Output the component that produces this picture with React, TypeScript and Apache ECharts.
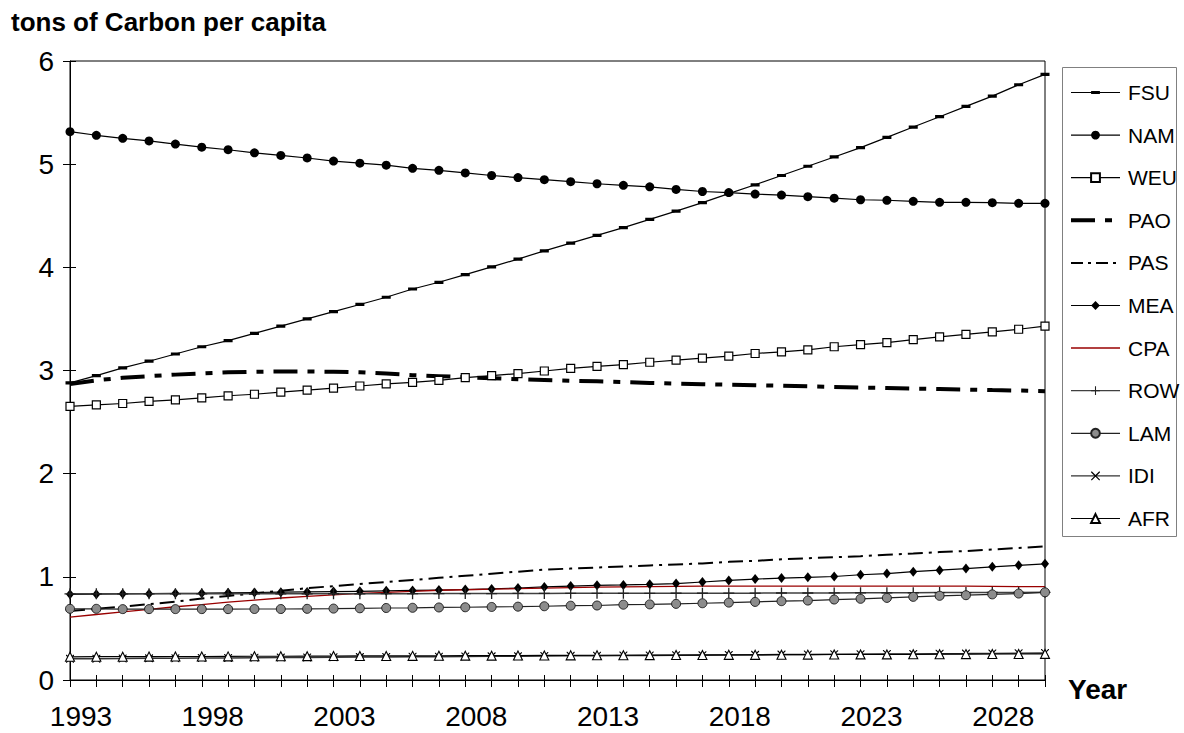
import React, { useEffect, useRef } from "react";
import * as echarts from "echarts";

const years = [
  "1993", "1994", "1995", "1996", "1997", "1998", "1999", "2000", "2001", "2002",
  "2003", "2004", "2005", "2006", "2007", "2008", "2009", "2010", "2011", "2012",
  "2013", "2014", "2015", "2016", "2017", "2018", "2019", "2020", "2021", "2022",
  "2023", "2024", "2025", "2026", "2027", "2028", "2029", "2030",
];

const FSU = [2.88, 2.95, 3.025, 3.09, 3.16, 3.23, 3.29, 3.36, 3.43, 3.5, 3.57, 3.64, 3.71, 3.79, 3.855, 3.93, 4.005, 4.08, 4.16, 4.235, 4.31, 4.385, 4.465, 4.545, 4.627, 4.715, 4.8, 4.89, 4.98, 5.07, 5.16, 5.26, 5.36, 5.46, 5.56, 5.66, 5.77, 5.87];
const NAM = [5.315, 5.28, 5.25, 5.225, 5.195, 5.165, 5.14, 5.11, 5.085, 5.06, 5.03, 5.01, 4.99, 4.96, 4.94, 4.915, 4.89, 4.87, 4.85, 4.83, 4.81, 4.795, 4.78, 4.755, 4.735, 4.725, 4.71, 4.7, 4.685, 4.67, 4.655, 4.65, 4.64, 4.63, 4.63, 4.627, 4.62, 4.62];
const WEU = [2.653, 2.667, 2.68, 2.7, 2.715, 2.735, 2.755, 2.77, 2.79, 2.81, 2.83, 2.85, 2.87, 2.885, 2.905, 2.93, 2.95, 2.97, 2.995, 3.02, 3.04, 3.057, 3.08, 3.1, 3.12, 3.14, 3.165, 3.18, 3.2, 3.23, 3.25, 3.27, 3.3, 3.325, 3.35, 3.375, 3.4, 3.43];
const PAO = [2.87, 2.905, 2.93, 2.945, 2.96, 2.972, 2.982, 2.988, 2.99, 2.99, 2.988, 2.982, 2.97, 2.955, 2.945, 2.935, 2.925, 2.915, 2.908, 2.9, 2.895, 2.888, 2.88, 2.873, 2.867, 2.862, 2.857, 2.852, 2.846, 2.84, 2.835, 2.83, 2.825, 2.82, 2.815, 2.81, 2.806, 2.8];
const PAS = [0.67, 0.69, 0.71, 0.735, 0.76, 0.79, 0.815, 0.84, 0.865, 0.89, 0.91, 0.93, 0.95, 0.97, 0.99, 1.01, 1.03, 1.05, 1.07, 1.08, 1.09, 1.1, 1.11, 1.12, 1.13, 1.145, 1.155, 1.17, 1.18, 1.19, 1.2, 1.215, 1.225, 1.24, 1.25, 1.265, 1.28, 1.295];
const MEA = [0.83, 0.832, 0.835, 0.837, 0.84, 0.842, 0.845, 0.848, 0.851, 0.854, 0.857, 0.86, 0.864, 0.868, 0.872, 0.877, 0.883, 0.892, 0.902, 0.91, 0.918, 0.922, 0.927, 0.935, 0.95, 0.965, 0.978, 0.988, 0.995, 1.003, 1.02, 1.032, 1.05, 1.065, 1.08, 1.097, 1.112, 1.126];
const CPA = [0.61, 0.635, 0.66, 0.685, 0.71, 0.73, 0.755, 0.775, 0.795, 0.81, 0.825, 0.84, 0.85, 0.86, 0.87, 0.875, 0.88, 0.885, 0.89, 0.895, 0.9, 0.903, 0.905, 0.907, 0.909, 0.91, 0.91, 0.91, 0.91, 0.91, 0.91, 0.91, 0.91, 0.91, 0.91, 0.908, 0.906, 0.905];
const ROW = [0.835, 0.835, 0.835, 0.835, 0.835, 0.835, 0.835, 0.835, 0.835, 0.835, 0.836, 0.836, 0.837, 0.837, 0.838, 0.838, 0.838, 0.839, 0.839, 0.84, 0.84, 0.84, 0.84, 0.841, 0.841, 0.842, 0.842, 0.843, 0.843, 0.844, 0.845, 0.845, 0.846, 0.847, 0.847, 0.848, 0.849, 0.85];
const LAM = [0.69, 0.69, 0.687, 0.687, 0.687, 0.687, 0.687, 0.688, 0.688, 0.69, 0.692, 0.695, 0.698, 0.7, 0.703, 0.705, 0.708, 0.711, 0.715, 0.72, 0.722, 0.73, 0.733, 0.738, 0.744, 0.75, 0.757, 0.764, 0.77, 0.78, 0.787, 0.796, 0.806, 0.816, 0.822, 0.83, 0.838, 0.85];
const IDI = [0.205, 0.207, 0.208, 0.21, 0.211, 0.213, 0.214, 0.216, 0.217, 0.219, 0.22, 0.222, 0.223, 0.225, 0.226, 0.228, 0.229, 0.231, 0.232, 0.234, 0.235, 0.237, 0.238, 0.24, 0.241, 0.243, 0.244, 0.246, 0.247, 0.249, 0.25, 0.252, 0.253, 0.255, 0.256, 0.258, 0.259, 0.261];
const AFR = [0.225, 0.226, 0.226, 0.227, 0.228, 0.228, 0.229, 0.23, 0.23, 0.231, 0.232, 0.233, 0.233, 0.234, 0.235, 0.236, 0.236, 0.237, 0.238, 0.239, 0.24, 0.24, 0.241, 0.242, 0.243, 0.244, 0.244, 0.245, 0.246, 0.247, 0.248, 0.248, 0.249, 0.25, 0.251, 0.252, 0.252, 0.253];

const yTicks = [0, 6, 1];
const FONT = '"Liberation Sans", Arial, Helvetica, sans-serif';

// short horizontal dash inside a square bounding box (degenerate sub-paths keep the box square)
const DASH = "path://M0,0 L0.01,0 Z M0,2.9 H9 V6.1 H0 Z M0,9 L0.01,9 Z";
const PLUS = "path://M4.4,0 H5.6 V4.4 H10 V5.6 H5.6 V10 H4.4 V5.6 H0 V4.4 H4.4 Z";
const CROSS = "path://M0,0 L1,0 L5,4 L9,0 L10,0 L10,1 L6,5 L10,9 L10,10 L9,10 L5,6 L1,10 L0,10 L0,9 L4,5 L0,1 Z";
const CLEAR = "rgba(0,0,0,0)";

function line(name: string, data: number[], opts: any) {
  const hasSymbol = !!opts.symbol;
  return {
    name,
    type: "line",
    data,
    xAxisIndex: 0,
    yAxisIndex: 0,
    showSymbol: hasSymbol,
    symbol: opts.symbol || "circle",
    symbolSize: opts.symbolSize || 8,
    itemStyle: opts.itemStyle || { color: hasSymbol ? "#000" : CLEAR },
    lineStyle: Object.assign({ color: "#000", width: 1.2 }, opts.lineStyle || {}),
    emphasis: { disabled: true },
  };
}

export default function App() {
  const ref = useRef<HTMLDivElement>(null);
  useEffect(() => {
    if (!ref.current) return;
    const chart = echarts.init(ref.current, null, { renderer: "svg" });
    const series = [
      line("FSU", FSU, { symbol: DASH, symbolSize: 9 }),
      line("NAM", NAM, { symbol: "circle", symbolSize: 9 }),
      line("WEU", WEU, {
        symbol: "rect",
        symbolSize: 8,
        itemStyle: { color: "#fff", borderColor: "#000", borderWidth: 1.2 },
      }),
      line("PAO", PAO, { lineStyle: { width: 4, type: [24, 10, 7, 10] } }),
      line("PAS", PAS, { lineStyle: { width: 2, type: [15, 6, 3, 6] } }),
      line("MEA", MEA, { symbol: "diamond", symbolSize: [8, 10] }),
      line("CPA", CPA, { lineStyle: { color: "#990000", width: 1.3 } }),
      line("ROW", ROW, {
        symbol: PLUS,
        symbolSize: 11,
        itemStyle: { color: "#222" },
        lineStyle: { color: "#404040", width: 1.5 },
      }),
      line("LAM", LAM, {
        symbol: "circle",
        symbolSize: 9,
        itemStyle: { color: "#8c8c8c", borderColor: "#222", borderWidth: 1 },
        lineStyle: { color: "#222" },
      }),
      line("IDI", IDI, { symbol: CROSS, symbolSize: 8, lineStyle: { color: "#333", width: 1.5 } }),
      line("AFR", AFR, {
        symbol: "triangle",
        symbolSize: 9,
        itemStyle: { color: "#fff", borderColor: "#000", borderWidth: 1.1 },
      }),
    ];
    const legendNames = ["FSU", "NAM", "WEU", "PAO", "PAS", "MEA", "CPA", "ROW", "LAM", "IDI", "AFR"];
    const legendData = legendNames.map((n) => {
      if (n === "PAO") return { name: n, lineStyle: { width: 4, type: [24, 10, 7, 10] } };
      if (n === "PAS") return { name: n, lineStyle: { width: 2, type: [12, 5, 3, 5] } };
      if (n === "CPA") return { name: n, lineStyle: { width: 1.5 } };
      return { name: n, lineStyle: { width: 1.2 } };
    });
    const option: any = {
      animation: false,
      backgroundColor: "#fff",
      textStyle: { fontFamily: FONT },
      grid: {
        left: 70,
        top: 61,
        width: 975,
        height: 619,
        show: true,
        borderColor: "#000",
        borderWidth: 1,
        backgroundColor: "transparent",
      },
      xAxis: [
        {
          type: "category",
          data: years,
          boundaryGap: false,
          axisLine: { lineStyle: { color: "#000", width: 1 } },
          axisTick: { show: true, interval: 0, length: 7, lineStyle: { color: "#000" } },
          axisLabel: {
            interval: 4,
            fontSize: 28,
            color: "#000",
            margin: 22,
            padding: [0, 0, 0, 22],
            fontFamily: FONT,
          },
          splitLine: { show: false },
        },
        {
          type: "category",
          data: years,
          boundaryGap: false,
          position: "bottom",
          axisLine: { show: false },
          axisTick: { show: true, inside: true, interval: 0, length: 5, lineStyle: { color: "#000" } },
          axisLabel: { show: false },
          splitLine: { show: false },
        },
      ],
      yAxis: [
        {
          type: "value",
          min: yTicks[0],
          max: yTicks[1],
          interval: yTicks[2],
          axisLine: { show: true, lineStyle: { color: "#000", width: 1 } },
          axisTick: { show: true, length: 7, lineStyle: { color: "#000" } },
          axisLabel: { fontSize: 28, color: "#000", margin: 16, fontFamily: FONT },
          splitLine: { show: false },
        },
        {
          type: "value",
          min: yTicks[0],
          max: yTicks[1],
          interval: yTicks[2],
          position: "left",
          axisLine: { show: false },
          axisTick: { show: true, inside: true, length: 6, lineStyle: { color: "#000" } },
          axisLabel: { show: false },
          splitLine: { show: false },
        },
      ],
      legend: {
        show: true,
        orient: "vertical",
        left: 1069,
        top: 82,
        padding: 0,
        itemWidth: 49,
        itemHeight: 11,
        itemGap: 21.6,
        selectedMode: false,
        symbolKeepAspect: true,
        lineStyle: { width: "inherit" },
        textStyle: {
          fontSize: 21,
          lineHeight: 21,
          color: "#000",
          fontFamily: FONT,
          padding: [0, 0, 0, 3],
        },
        data: legendData,
      },
      graphic: [
        {
          type: "rect",
          shape: { x: 1062.5, y: 67.5, width: 114, height: 469 },
          style: { fill: "none", stroke: "#808080", lineWidth: 1 },
          z: 0,
        },
        {
          type: "text",
          x: 11,
          y: 21.5,
          style: {
            text: "tons of Carbon per capita",
            font: 'bold 26px "Liberation Sans", Arial, sans-serif',
            fill: "#000",
            textVerticalAlign: "middle",
          },
        },
        {
          type: "text",
          x: 1068,
          y: 689,
          style: {
            text: "Year",
            font: 'bold 28px "Liberation Sans", Arial, sans-serif',
            fill: "#000",
            textVerticalAlign: "middle",
          },
        },
      ],
      series,
    };
    chart.setOption(option);
    return () => chart.dispose();
  }, []);
  return (
    <div
      ref={ref}
      style={{ position: "absolute", left: 0, top: 0, width: 1184, height: 733 }}
    />
  );
}
